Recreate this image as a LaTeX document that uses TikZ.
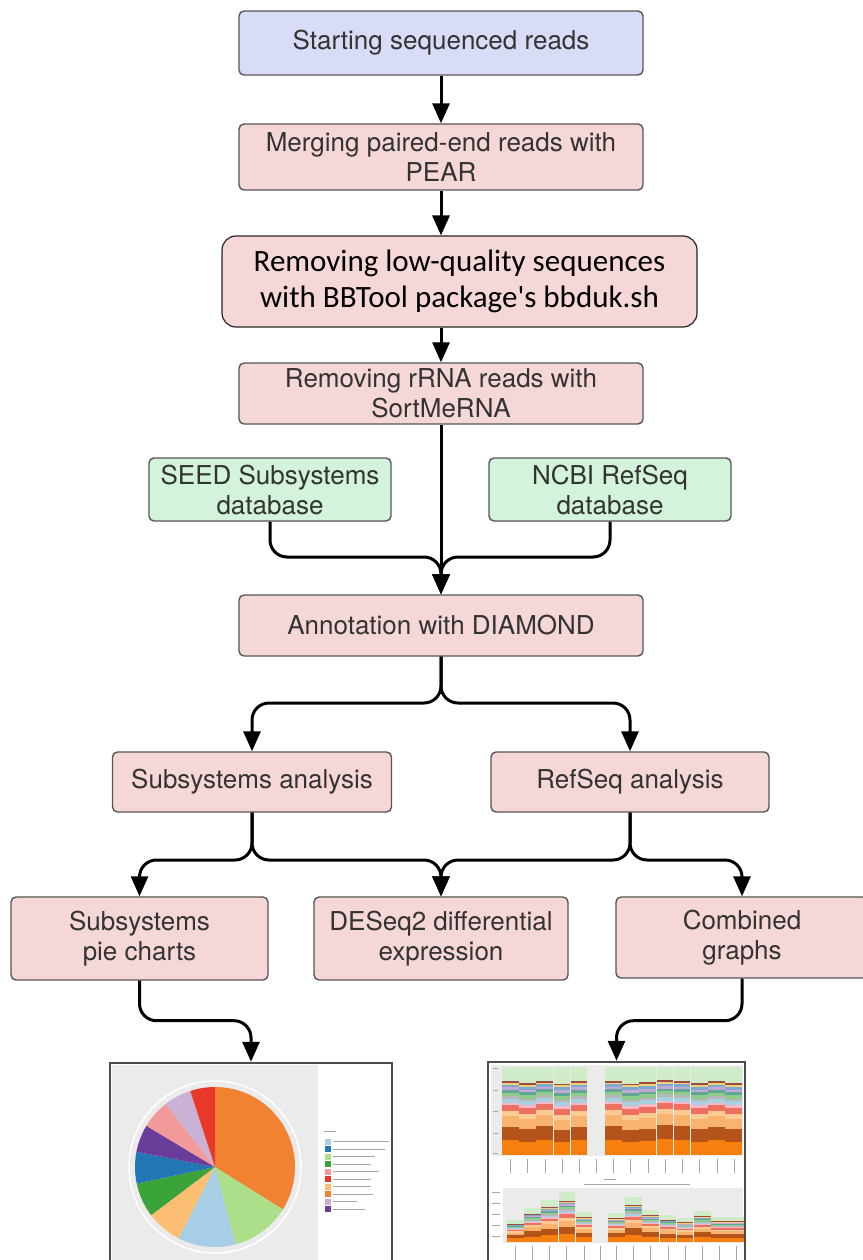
\documentclass[tikz,border=0pt]{standalone}
\usepackage{fontspec}
\setmainfont{TeX Gyre Heros}
\newfontfamily\calibrifont{Carlito}
\usetikzlibrary{arrows.meta, calc}
\definecolor{startfill}{HTML}{D9DCF6}
\definecolor{stepfill}{HTML}{F6D7D7}
\definecolor{dbfill}{HTML}{D3F3DC}
\definecolor{boxborder}{HTML}{555555}
\definecolor{boxtext}{HTML}{333333}
\definecolor{panelgray}{HTML}{EBEBEB}
% pie slices
\definecolor{pieOrange}{HTML}{F08232}
\definecolor{pieLgreen}{HTML}{ADDE8A}
\definecolor{pieLblue}{HTML}{A6CEE6}
\definecolor{piePeach}{HTML}{FBBE72}
\definecolor{pieGreen}{HTML}{3AA33A}
\definecolor{pieBlue}{HTML}{2278B5}
\definecolor{piePurple}{HTML}{6A3D9A}
\definecolor{piePink}{HTML}{F29A9A}
\definecolor{pieLavender}{HTML}{CAB2D6}
\definecolor{pieRed}{HTML}{E8382A}
% stacked bars
\definecolor{barOrange}{HTML}{F77F0E}
\definecolor{barBrown}{HTML}{B5541A}
\definecolor{barTan}{HTML}{F8B36E}
\definecolor{barPeach}{HTML}{FBCB93}
\definecolor{barCoral}{HTML}{EE7060}
\definecolor{barPink}{HTML}{F8B8C8}
\definecolor{barLblue}{HTML}{A8D0E0}
\definecolor{barGray}{HTML}{B7B7B7}
\definecolor{barGreen}{HTML}{8FCB8A}
\definecolor{barTeal}{HTML}{5FA897}
\definecolor{barLav}{HTML}{C3A9D3}
\definecolor{barBlue}{HTML}{7FA7CF}
\definecolor{barYellow}{HTML}{EED37A}
\definecolor{barDred}{HTML}{A04A3F}
\definecolor{barLgreen}{HTML}{CFEBC8}

% one stacked bar: left x, base y, height, width, wobble
\newcommand\stackbar[5]{%
  \foreach \lo/\hi/\c in {0/.16/barOrange, .16/.31/barBrown, .31/.43/barTan,
      .43/.49/barPeach, .49/.555/barCoral, .555/.585/barPink, .585/.63/barLblue,
      .63/.66/barGray, .66/.70/barGreen, .70/.73/barTeal, .73/.76/barLav,
      .76/.79/barBlue, .79/.81/barYellow, .81/.83/barDred, .83/1/barLgreen}
    \fill[\c] ({#1},{#2-\lo*#3-#5*sin(180*\lo)})
      rectangle ({#1+#4},{#2-\hi*#3-#5*sin(180*\hi)});
}

\tikzset{
  stepbox/.style={draw=boxborder, line width=1.4pt, fill=stepfill,
    rounded corners=5pt, text=boxtext, align=center, inner sep=2pt,
    font=\fontsize{26}{30}\selectfont},
  startbox/.style={stepbox, fill=startfill},
  dbbox/.style={stepbox, fill=dbfill},
  flow/.style={line width=3pt, rounded corners=17pt,
    -{Triangle[length=20pt,width=17pt]}},
  chartframe/.style={draw=black!70, line width=2.5pt},
  ticklabel/.style={black!35, line width=1pt},
}

\begin{document}
\begin{tikzpicture}[x=1pt, y=-1pt]
  \useasboundingbox (0,0) rectangle (862,1260);

  % pipeline
  \node[startbox, minimum width=404pt, minimum height=64pt] (start) at (441,43)
    {Starting sequenced reads};
  \node[stepbox, minimum width=404pt, minimum height=66pt] (merge) at (441,157)
    {Merging paired-end reads with\\PEAR};
  \node[stepbox, draw=black!85, line width=1.2pt, rounded corners=14pt, text=black,
    minimum width=475pt, minimum height=91pt,
    font=\calibrifont\fontsize{31}{36}\selectfont] (bbduk) at (459.5,281.5)
    {Removing low-quality sequences\\with BBTool package's bbduk.sh};
  \node[stepbox, minimum width=404pt, minimum height=61pt] (rrna) at (441,393.5)
    {Removing rRNA reads with\\SortMeRNA};
  \node[dbbox, minimum width=242pt, minimum height=63pt] (seed) at (270,489.5)
    {SEED Subsystems\\database};
  \node[dbbox, minimum width=242pt, minimum height=63pt] (ncbi) at (610,489.5)
    {NCBI RefSeq\\database};
  \node[stepbox, minimum width=404pt, minimum height=61pt] (diamond) at (441,625.5)
    {Annotation with DIAMOND};
  \node[stepbox, minimum width=279pt, minimum height=60pt] (subsys) at (252,782)
    {Subsystems analysis};
  \node[stepbox, minimum width=278pt, minimum height=60pt] (refseq) at (630,782)
    {RefSeq analysis};
  \node[stepbox, minimum width=257pt, minimum height=83pt] (piebox) at (139.5,938.5)
    {Subsystems\\pie charts};
  \node[stepbox, minimum width=254pt, minimum height=83pt] (deseq) at (441,938.5)
    {DESeq2 differential\\expression};
  \node[stepbox, minimum width=252pt, minimum height=81pt] (comb) at (742,937.5)
    {Combined\\graphs};

  % pie chart thumbnail
  \fill[panelgray] (112,1065) rectangle (318,1262);
  \draw[white, line width=1.5pt] (215,1167) circle[radius=86];
  \begin{scope}[shift={(215,1167)}, yscale=-1]
    \foreach \a/\b/\c in {90/-32/pieOrange, -32/-75/pieLgreen, -75/-117/pieLblue,
        -117/-143/piePeach, -143/-168/pieGreen, -168/-191/pieBlue,
        -191/-211/piePurple, -211/-232/piePink, -232/-252/pieLavender,
        -252/-270/pieRed}
      \fill[\c] (0,0) -- (\a:80) arc[start angle=\a, end angle=\b, radius=80] -- cycle;
  \end{scope}
  \draw[ticklabel] (324,1131) -- ++(12,0);
  \foreach \c/\l [count=\i] in {pieLblue/56, pieBlue/52, pieLgreen/42, pieGreen/38,
      piePink/46, pieRed/38, piePeach/38, pieOrange/40, pieLavender/24, piePurple/32} {
    \fill[\c] (325,{1131+7.5*\i}) rectangle ++(6,6);
    \draw[ticklabel] (333,{1134+7.5*\i}) -- ++(\l,0);
  }
  \node[chartframe, minimum width=282pt, minimum height=240pt] (piechart) at (251,1183) {};

  % combined graphs thumbnail
  \fill[panelgray] (491,1065) rectangle (743,1156);
  \fill[panelgray] (503,1188) rectangle (743,1243);
  \foreach \w [count=\i from 0] in {1,-2,2,-3,1}
    \stackbar{502+17.2*\i}{1155}{88}{16.5}{\w};
  \foreach \w [count=\i from 0] in {2,-3,-1,3,2,-2,1,-2}
    \stackbar{605+17.2*\i}{1155}{88}{16.5}{\w};
  \foreach \h [count=\i from 0] in {22,34,42,50,30}
    \stackbar{507+17.2*\i}{1242}{\h}{16.5}{0};
  \foreach \h [count=\i from 0] in {29,45,32,27,24,31,25,25}
    \stackbar{608+17.2*\i}{1242}{\h}{16.5}{0};
  \foreach \x in {510,527,545,562,579,596,613,630,648,665,682,699,717,734}
    \draw[ticklabel] (\x,1159) -- ++(0,14);
  \foreach \x in {515,532,549,566,584,600,616,633,650,668,685,702,719,736}
    \draw[ticklabel] (\x,1246) -- ++(0,14);
  \foreach \y in {1068,1090,1111,1133,1153}
    \draw[ticklabel] (493,\y) -- ++(5,0);
  \foreach \y in {1192,1203,1214,1225,1236}
    \draw[ticklabel] (492,\y) -- ++(8,0);
  \draw[ticklabel] (604,1179) -- ++(12,0);
  \draw[ticklabel] (584,1184) -- ++(106,0);
  \node[chartframe, minimum width=257pt, minimum height=240pt] (barchart) at (616.5,1182) {};

  % junctions
  \coordinate (jdb) at (441,557);
  \coordinate (jann) at (441,703);
  \coordinate (jsub) at (252,860);
  \coordinate (jref) at (630,860);

  % connectors
  \draw[flow] (start) -- (merge);
  \draw[flow] (merge.south) -- (merge.south |- bbduk.north);
  \draw[flow] (rrna.north |- bbduk.south) -- (rrna.north);
  \draw[flow] (rrna.south) -- (diamond.north);
  \draw[flow] (seed.south) |- (jdb) -- (diamond.north);
  \draw[flow] (ncbi.south) |- (jdb) -- (diamond.north);
  \draw[flow] (diamond.south) -- (jann) -| (subsys.north);
  \draw[flow] (diamond.south) -- (jann) -| (refseq.north);
  \draw[flow] (subsys.south) -- (jsub) -| (piebox.north);
  \draw[flow] (subsys.south) -- (jsub) -| (deseq.north);
  \draw[flow] (refseq.south) -- (jref) -| (deseq.north);
  \draw[flow] (refseq.south) -- (jref) -| (comb.north);
  \draw[flow] (piebox.south) -- ++(0,40) -| (piechart.north);
  \draw[flow] (comb.south) -- ++(0,42) -| (barchart.north);
\end{tikzpicture}
\end{document}
